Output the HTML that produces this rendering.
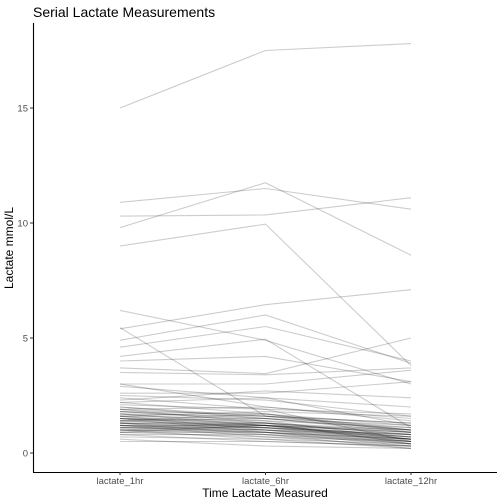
<!DOCTYPE html>
<html><head><meta charset="utf-8"><style>
html,body{margin:0;padding:0;background:#fff;width:504px;height:504px;overflow:hidden}
text{font-family:"Liberation Sans",Arial,sans-serif}
</style></head><body>
<svg id="chart" width="504" height="504" xmlns="http://www.w3.org/2000/svg">
<rect width="504" height="504" fill="#fff"/>
<text x="33" y="17" font-size="14" fill="#000">Serial Lactate Measurements</text>
<g id="lines"></g>
<line x1="33.5" y1="23" x2="33.5" y2="472" stroke="#000" stroke-width="1.1"/>
<line x1="33" y1="472.5" x2="497" y2="472.5" stroke="#000" stroke-width="1.1"/>
<g id="yticks"></g>
<g id="xticks"></g>
<text x="265" y="497" font-size="12" text-anchor="middle">Time Lactate Measured</text>
<text transform="translate(13,248) rotate(-90)" font-size="12" text-anchor="middle">Lactate mmol/L</text>
</svg>
<script>
const categories=["lactate_1hr","lactate_6hr","lactate_12hr"];
const yTicks=[0,5,10,15];
const series=[
[15.0,17.5,17.8],[10.9,11.5,10.6],[10.3,10.35,11.1],[9.8,11.75,8.6],[9.0,9.95,3.8],
[6.2,4.9,3.0],[5.4,6.45,7.1],[5.45,1.6,1.0],[4.9,6.0,3.9],[4.6,5.5,4.0],
[4.2,4.95,1.1],[4.0,4.2,3.1],[3.7,3.45,5.0],[3.5,3.4,3.7],[3.0,3.0,3.6],
[3.0,2.0,1.4],[2.9,2.4,1.2],[2.6,2.6,3.1],[2.5,2.3,1.6],[2.3,2.7,2.4],
[2.2,2.4,2.0],[2.1,1.9,1.7],[2.0,1.5,1.0],[1.9,2.0,1.5],[1.9,1.3,0.8],
[1.8,1.7,1.2],[1.8,1.4,0.6],[1.7,1.6,1.3],[1.7,1.2,0.5],[1.6,1.5,1.0],
[1.6,1.0,0.4],[1.5,1.4,1.1],[1.5,1.2,0.7],[1.5,0.9,0.3],[1.4,1.5,1.2],
[1.4,1.1,0.8],[1.3,1.3,1.0],[1.3,1.0,0.6],[1.3,0.8,0.2],[1.2,1.2,0.9],
[1.2,0.9,0.5],[1.2,0.7,0.3],[1.1,1.1,0.8],[1.1,0.9,0.6],[1.0,1.0,0.7],
[1.0,0.8,0.4],[1.0,0.6,0.2],[0.9,0.9,0.6],[0.9,0.7,0.5],[0.8,0.8,0.5],
[0.8,0.5,0.3],[0.7,0.6,0.4],[0.6,0.3,0.2],[0.5,0.5,0.3],[1.6,1.8,1.6],
[2.0,1.6,1.3],[1.4,1.7,0.9],[1.1,1.3,0.4],[0.9,1.2,0.7],[2.4,1.9,0.5],
[1.9,1.6,1.1],[1.7,1.3,0.9],[1.5,1.3,0.8],[1.4,1.2,0.6],[1.3,1.1,0.7],
[1.2,1.0,0.8],[1.1,1.0,0.5],[1.0,0.9,0.4],[1.8,1.5,0.9],[1.6,1.2,0.6],
[1.3,1.2,0.9],[1.2,1.1,0.6],[1.5,1.1,0.5],[1.0,1.2,1.0],[2.2,1.7,1.0]
];
const svgns="http://www.w3.org/2000/svg";
const xPos=i=>120+i*145.5;
const yPos=v=>453-v*23;
const lg=document.getElementById('lines');
series.forEach((s,k)=>{
  const p=document.createElementNS(svgns,'polyline');
  p.setAttribute('points',s.map((v,i)=>xPos(i)+','+yPos(v)).join(' '));
  p.setAttribute('fill','none');p.setAttribute('stroke','rgba(0,0,0,0.2)');p.setAttribute('stroke-width','1.1');
  
  
  lg.appendChild(p);
});
const yt=document.getElementById('yticks');
yTicks.forEach(v=>{
  const l=document.createElementNS(svgns,'line');
  l.setAttribute('x1',30);l.setAttribute('x2',33);l.setAttribute('y1',yPos(v));l.setAttribute('y2',yPos(v));l.setAttribute('stroke','#333');
  
  
  yt.appendChild(l);
  const t=document.createElementNS(svgns,'text');
  t.setAttribute('x',28);t.setAttribute('y',yPos(v)+3.5);t.setAttribute('font-size','9.5');t.setAttribute('fill','#4d4d4d');t.setAttribute('text-anchor','end');
  t.textContent=v;
  
  
  yt.appendChild(t);
});
const xt=document.getElementById('xticks');
categories.forEach((c,i)=>{
  const l=document.createElementNS(svgns,'line');
  l.setAttribute('x1',xPos(i));l.setAttribute('x2',xPos(i));l.setAttribute('y1',472);l.setAttribute('y2',475);l.setAttribute('stroke','#333');
  
  
  xt.appendChild(l);
  const t=document.createElementNS(svgns,'text');
  t.setAttribute('x',xPos(i));t.setAttribute('y',484);t.setAttribute('font-size','9.5');t.setAttribute('fill','#4d4d4d');t.setAttribute('text-anchor','middle');
  t.textContent=c;
  
  
  xt.appendChild(t);
});
</script>
</body></html>
